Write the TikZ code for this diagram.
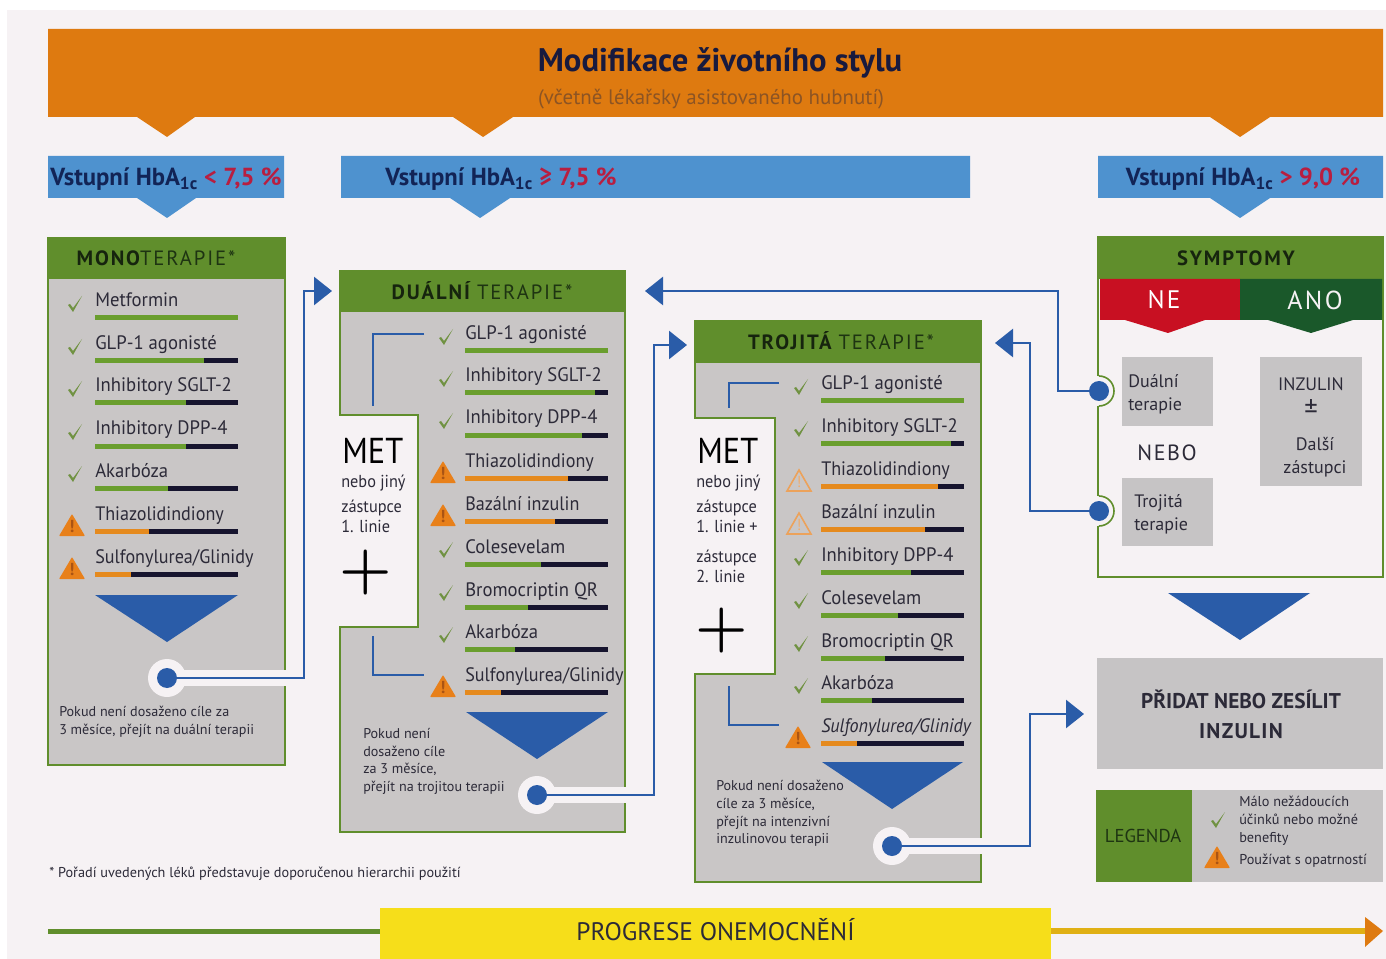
\documentclass[tikz,border=0pt]{standalone}
\usepackage{fontspec}
\setmainfont{PT Sans}
\newfontfamily\plusfont{Latin Modern Roman}
\usetikzlibrary{arrows.meta}

\definecolor{pale}{RGB}{246,242,244}
\definecolor{bannerorange}{RGB}{222,122,16}
\definecolor{subbrown}{RGB}{140,84,36}
\definecolor{entryblue}{RGB}{78,146,207}
\definecolor{entryink}{RGB}{18,36,86}
\definecolor{titleink}{RGB}{24,26,62}
\definecolor{entryred}{RGB}{184,30,64}
\definecolor{panelgreen}{RGB}{96,142,44}
\definecolor{panelgrey}{RGB}{201,198,198}
\definecolor{headdark}{RGB}{22,36,14}
\definecolor{headlite}{RGB}{30,52,18}
\definecolor{ink}{RGB}{44,42,56}
\definecolor{linkblue}{RGB}{42,92,168}
\definecolor{barok}{RGB}{106,158,46}
\definecolor{barwarn}{RGB}{229,138,30}
\definecolor{barrest}{RGB}{22,20,46}
\definecolor{checkgreen}{RGB}{112,146,66}
\definecolor{warnorange}{RGB}{232,128,26}
\definecolor{warnmark}{RGB}{170,84,20}
\definecolor{nered}{RGB}{200,16,34}
\definecolor{anogreen}{RGB}{26,88,42}
\definecolor{boxgrey}{RGB}{198,196,197}
\definecolor{progressyellow}{RGB}{246,222,26}
\definecolor{progressgold}{RGB}{224,176,20}

\newcommand{\tight}{\addfontfeature{FakeStretch=.93}}

\tikzset{
  lbl/.style={inner sep=0.75pt,text=ink},
  drugname/.style={lbl,anchor=base west,font=\fontsize{14.6}{17}\selectfont\addfontfeature{FakeStretch=.96}},
  note/.style={lbl,anchor=north west,align=left,font=\fontsize{10.6}{13.3}\selectfont},
  sidetext/.style={lbl,anchor=base west,font=\fontsize{13}{15}\selectfont\addfontfeature{FakeStretch=.94}},
  mettext/.style={lbl,anchor=base west,text=black,font=\fontsize{27}{30}\selectfont\addfontfeature{FakeStretch=.9}},
  plustext/.style={lbl,text=black,font=\plusfont\fontsize{45}{45}\selectfont\bfseries},
  headtext/.style={lbl,font=\fontsize{15.5}{18}\selectfont\addfontfeature{LetterSpace=9}},
  entrytext/.style={lbl,text=entryink,font=\fontsize{18.5}{22}\selectfont\bfseries},
  boxtext/.style={lbl,align=center,font=\fontsize{13.5}{17.3}\selectfont},
  panel/.style={fill=panelgrey,draw=panelgreen,line width=1.9pt},
  dotring/.style={circle,fill=pale,inner sep=0pt,minimum size=28.5pt},
  dot/.style={circle,fill=linkblue,inner sep=0pt,minimum size=15pt},
  link/.style={draw=linkblue,line width=1.9pt,-{Triangle[length=13.5pt,width=21pt]}},
  brace/.style={draw=linkblue,line width=1.6pt},
  barok/.style={fill=barok},
  barwarn/.style={fill=barwarn},
  barpale/.style={fill=barwarn},
  checkmark/.pic={
    \fill[checkgreen] (-7,-1) -- (-5,0) -- (-2,-4) -- (7,8) -- (-2,-8) -- cycle;
  },
  warnsign/.pic={
    \fill[warnorange,rounded corners=0.6pt] (0,0) -- (13,-22) -- (-13,-22) -- cycle;
    \node[inner sep=0pt,text=warnmark,font=\fontsize{13}{13}\selectfont\bfseries] (-sign) at (0,-13) {!};
  },
  warnpale/.pic={
    \draw[warnorange!70!pale,line width=1.2pt] (0,-1) -- (12,-22) -- (-12,-22) -- cycle;
    \node[inner sep=0pt,text=warnorange!60!pale,font=\fontsize{12}{12}\selectfont] (-sign) at (0,-13) {!};
  },
}

% one row: name, bar, mark
\newcommand{\iconok}[2]{\pic at (#1,#2+4) {checkmark};}
\newcommand{\iconwarn}[2]{\pic at (#1-3,#2+1) {warnsign};}
\newcommand{\iconpale}[2]{\pic at (#1-2,#2+1) {warnpale};}
\newcommand{\drugrows}[4]{%
  \foreach \yy/\drug/\share/\kind [count=\idx] in {#4} {
    \fill[barrest] (#2,\yy+15.5) rectangle (#2+143,\yy+20.5);
    \fill[bar\kind] (#2,\yy+15.5) rectangle (#2+143*\share,\yy+20.5);
    \node[drugname] (#1\idx) at (#2-1,\yy+7) {\drug};
    \csname icon\kind\endcsname{#3}{\yy}
  }
}
\newcommand{\hba}{HbA\textsubscript{1c}}
\newcommand{\splithead}[2]{{\bfseries\color{headdark}#1}{\color{headlite}#2}}

\begin{document}
\begin{tikzpicture}[x=0.75pt,y=0.75pt,yscale=-1,xscale=1]
\useasboundingbox (0,0) rectangle (1386,959);
\fill[white] (0,0) rectangle (1386,959);
\fill[pale] (7,10) rectangle (1386,959);

%Banner
\fill[bannerorange] (48,29) -- (1383,29) -- (1383,117) -- (1270,117) -- (1240,137) -- (1210,117) -- (513,117) -- (483,137) -- (453,117) -- (195,117) -- (167,137) -- (137,117) -- (48,117) -- cycle;
\node[lbl,text=titleink,font=\fontsize{24.5}{28}\selectfont\bfseries] (title) at (720,63) {Modifikace životního stylu};
\node[lbl,text=subbrown,font=\fontsize{15.7}{18}\selectfont] (subtitle) at (711,99) {(včetně lékařsky asistovaného hubnutí)};

%Entry boxes
\fill[entryblue] (48,156) -- (284,156) -- (284,198) -- (196,198) -- (167,218) -- (137,198) -- (48,198) -- cycle;
\fill[entryblue] (341,156) -- (970,156) -- (970,198) -- (510,198) -- (480,218) -- (450,198) -- (341,198) -- cycle;
\fill[entryblue] (1098,156) -- (1383,156) -- (1383,198) -- (1270,198) -- (1240,218) -- (1210,198) -- (1098,198) -- cycle;
\node[entrytext] (entrymono) at (166,179) {Vstupní \hba{} {\color{entryred}< 7,5 \%}};
\node[entrytext] (entrydual) at (501,179) {Vstupní \hba{} {\color{entryred}≥ 7,5 \%}};
\node[entrytext] (entrysym) at (1243,179) {Vstupní \hba{} {\color{entryred}> 9,0 \%}};

%Panels
\draw[panel] (48,270) rectangle (285,765);
\fill[panelgreen] (47,237) rectangle (286,279);
\draw[panel] (340,311) -- (625,311) -- (625,832) -- (340,832) -- (340,627) -- (418,627) -- (418,415) -- (340,415) -- cycle;
\fill[panelgreen] (339,270) rectangle (626,311);
\draw[panel] (695,362) -- (981,362) -- (981,882) -- (695,882) -- (695,674) -- (775,674) -- (775,418) -- (695,418) -- cycle;
\fill[panelgreen] (694,320) rectangle (982,362);
\node[headtext] (headmono) at (156,258) {\splithead{MONO}{TERAPIE*}};
\node[headtext] (headdual) at (482,291) {\splithead{DUÁLNÍ\ }{TERAPIE*}};
\node[headtext] (headtrip) at (841,341) {\splithead{TROJITÁ\ }{TERAPIE*}};

%Drug rows
\drugrows{mono}{95}{75}{300/Metformin/1/ok,343/GLP-1 agonisté/.76/ok,385/Inhibitory SGLT-2/.634/ok,428/Inhibitory DPP-4/.634/ok,470/Akarbóza/.51/ok,513/{\tight Thiazolidindiony}/.38/warn,556/{\tight Sulfonylurea/Glinidy}/.25/warn}
\drugrows{dual}{465}{446}{333/GLP-1 agonisté/1/ok,375/Inhibitory SGLT-2/.907/ok,417/Inhibitory DPP-4/.815/ok,460/{\tight Thiazolidindiony}/.72/warn,503/{\tight Bazální inzulin}/.63/warn,546/Colesevelam/.53/ok,589/Bromocriptin QR/.44/ok,631/Akarbóza/.35/ok,674/{\tight Sulfonylurea/Glinidy}/.25/warn}
\drugrows{trip}{821}{801}{383/GLP-1 agonisté/1/ok,425/Inhibitory SGLT-2/.91/ok,468/{\tight Thiazolidindiony}/.82/pale,511/{\tight Bazální inzulin}/.73/pale,554/Inhibitory DPP-4/.63/ok,597/Colesevelam/.54/ok,640/Bromocriptin QR/.445/ok,682/Akarbóza/.355/ok,725/{\tight\itshape Sulfonylurea/Glinidy}/.25/warn}

%Down triangles
\fill[linkblue] (95,595) -- (238,595) -- (167,642) -- cycle;
\fill[linkblue] (466,712) -- (608,712) -- (537,759) -- cycle;
\fill[linkblue] (822,762) -- (963,762) -- (892,809) -- cycle;
\fill[linkblue] (1168,593) -- (1310,593) -- (1240,640) -- cycle;

%MET blocks
\node[mettext] (metdual) at (341,463) {MET};
\node[sidetext] (sidedual1) at (340,487) {nebo jiný};
\node[sidetext] (sidedual2) at (340,512) {zástupce};
\node[sidetext] (sidedual3) at (340,532) {1. linie};
\node[plustext] (plusdual) at (366,573) {+};
\node[mettext] (mettrip) at (696,463) {MET};
\node[sidetext] (sidetrip1) at (695,487) {nebo jiný};
\node[sidetext] (sidetrip2) at (695,512) {zástupce};
\node[sidetext] (sidetrip3) at (695,532) {1. linie +};
\node[sidetext] (sidetrip4) at (695,562) {zástupce};
\node[sidetext] (sidetrip5) at (695,582) {2. linie};
\node[plustext] (plustrip) at (722,631) {+};

%Brackets
\coordinate (duala) at (424,334);
\coordinate (dualb) at (373,406);
\coordinate (dualc) at (373,636);
\coordinate (duald) at (424,675);
\coordinate (tripa) at (779,383);
\coordinate (tripb) at (729,408);
\coordinate (tripc) at (729,686);
\coordinate (tripd) at (779,725);
\draw[brace] (duala) -| (dualb);
\draw[brace] (dualc) |- (duald);
\draw[brace] (tripa) -| (tripb);
\draw[brace] (tripc) |- (tripd);

% Text Node
\node[note] (notemono) at (58,705) {Pokud není dosaženo cíle za\\3 měsíce, přejít na duální terapii};
\node[note] (notedual) at (362,727) {Pokud není\\dosaženo cíle\\za 3 měsíce,\\přejít na trojitou terapii};
\node[note] (notetrip) at (715,779) {Pokud není dosaženo\\cíle za 3 měsíce,\\přejít na intenzivní\\inzulinovou terapii};
\node[lbl,anchor=west,font=\fontsize{10.7}{13}\selectfont] (footnote) at (48,874) {* Pořadí uvedených léků představuje doporučenou hierarchii použití};

%Symptom panel
\draw[draw=panelgreen,line width=1.9pt] (1098,270) rectangle (1383,577);
\fill[panelgreen] (1097,236) rectangle (1384,279);
\fill[nered] (1100,279) -- (1240,279) -- (1240,320) -- (1205,320) -- (1168,333) -- (1125,320) -- (1100,320) -- cycle;
\fill[anogreen] (1240,279) -- (1382,279) -- (1382,320) -- (1353,320) -- (1311,333) -- (1268,320) -- (1240,320) -- cycle;
\node[headtext] (headsym) at (1236,258) {{\bfseries\color{headdark}SYMPTOMY}};
\node[lbl,text=white,font=\fontsize{19}{20}\selectfont\addfontfeature{LetterSpace=9}] (nolabel) at (1164,300) {NE};
\node[lbl,text=pale,font=\fontsize{19.5}{20}\selectfont\addfontfeature{LetterSpace=9}] (yeslabel) at (1315,300) {ANO};
\fill[boxgrey] (1122,357) rectangle (1213,426);
\fill[boxgrey] (1122,478) rectangle (1213,546);
\fill[boxgrey] (1260,357) rectangle (1362,486);
\node[boxtext,anchor=north west,align=left] (boxdual) at (1127,373) {Duální\\terapie};
\node[boxtext,anchor=north west,align=left] (boxtrip) at (1133,493) {Trojitá\\terapie};
\node[boxtext,text depth=0pt] (boxins1) at (1311,384) {INZULIN};
\node[boxtext,font=\fontsize{20}{20}\selectfont] (boxins2) at (1311,409) {±};
\node[boxtext] (boxins3) at (1315,457) {Další\\zástupci};
\node[lbl,font=\fontsize{16.5}{18}\selectfont\addfontfeature{LetterSpace=7}] (orlabel) at (1167,453) {NEBO};

%Add insulin box
\fill[boxgrey] (1097,658) rectangle (1383,769);
\node[lbl,align=center,font=\fontsize{16}{22.5}\selectfont\bfseries] (addins) at (1241,714) {PŘIDAT NEBO ZESÍLIT\\{\addfontfeature{LetterSpace=6}INZULIN}};

%Legend
\fill[panelgreen] (1096,790) rectangle (1192,882);
\fill[boxgrey] (1192,790) rectangle (1383,882);
\node[lbl,text=headlite,font=\fontsize{14}{16}\selectfont] (legendhead) at (1143,836) {LEGENDA};
\pic at (1218,820) {checkmark};
\pic at (1217,846) {warnsign};
\node[note,font=\fontsize{10.7}{13.5}\selectfont] (legendok) at (1238,795) {Málo nežádoucích\\účinků nebo možné\\benefity};
\node[lbl,anchor=west,font=\fontsize{10.7}{13}\selectfont] (legendwarn) at (1238,861) {Používat s opatrností};

%Progress bar
\fill[panelgreen] (48,928.5) rectangle (381,933.5);
\draw[progressgold,line width=3.8pt] (1050,931) -- (1368,931);
\fill[bannerorange] (1365,917) -- (1383,931) -- (1365,947) -- cycle;
\fill[progressyellow] (380,908) rectangle (1051,959);
\node[lbl,font=\fontsize{19}{22}\selectfont] (progress) at (715.5,930) {PROGRESE ONEMOCNĚNÍ};

%Dots and connectors
\fill[pale] (167,670) rectangle (287,686);
\fill[pale] (537,787) rectangle (627,803);
\fill[pale] (892,838) rectangle (983,854);
\node[dotring] (ringmono) at (167,678) {};
\node[dotring] (ringdual) at (537,795) {};
\node[dotring] (ringtrip) at (892,846) {};
\node[dot] (dotmono) at (167,678) {};
\node[dot] (dotdual) at (537,795) {};
\node[dot] (dottrip) at (892,846) {};
\node[circle,fill=pale,inner sep=0pt,minimum size=22.5pt] (ringne) at (1099,391) {};
\node[circle,fill=pale,inner sep=0pt,minimum size=22.5pt] (ringor) at (1099,511) {};
\draw[panelgreen,line width=1.2pt] (1099,376) arc (-90:90:15);
\draw[panelgreen,line width=1.2pt] (1099,496) arc (-90:90:15);
\node[dot] (dotne) at (1099,391) {};
\node[dot] (dotor) at (1099,511) {};

\coordinate (bendmono) at (304,291);
\coordinate (endmono) at (332,291);
\coordinate (benddual) at (654,345);
\coordinate (enddual) at (687,345);
\coordinate (bendtrip) at (1030,714);
\coordinate (endtrip) at (1084,714);
\coordinate (bendne) at (1058,291);
\coordinate (endne) at (645,291);
\coordinate (bendor) at (1030,343);
\coordinate (endor) at (995,343);
\draw[link] (dotmono) -| (bendmono) -- (endmono);
\draw[link] (dotdual) -| (benddual) -- (enddual);
\draw[link] (dottrip) -| (bendtrip) -- (endtrip);
\draw[link] (dotne) -| (bendne) -- (endne);
\draw[link] (dotor) -| (bendor) -- (endor);

\end{tikzpicture}
\end{document}
